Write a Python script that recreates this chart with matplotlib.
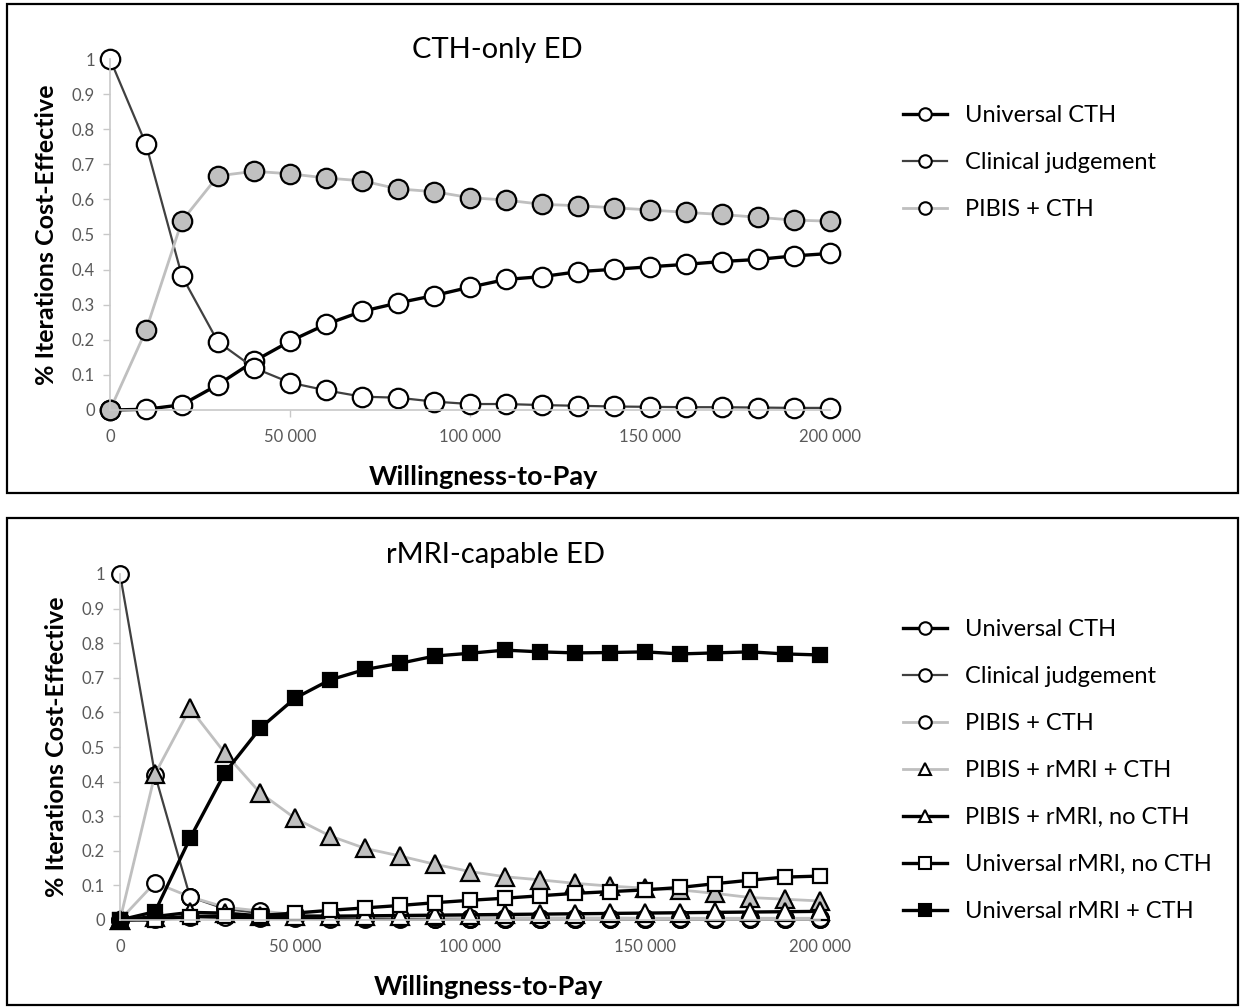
import matplotlib
matplotlib.use("Agg")
import matplotlib.pyplot as plt
from matplotlib.lines import Line2D
from matplotlib.patches import Rectangle
from matplotlib.ticker import FuncFormatter, MultipleLocator

plt.rcParams['font.family'] = ['Lato', 'DejaVu Sans']

# willingness-to-pay grid
wtp = list(range(0, 200001, 10000))

# --- CTH-only ED ---
top_univ_cth = [0.0, 0.002, 0.015, 0.072, 0.139, 0.196, 0.244, 0.281, 0.305, 0.326, 0.35,
                0.372, 0.38, 0.394, 0.401, 0.408, 0.415, 0.423, 0.429, 0.439, 0.446]
top_clinical = [1.0, 0.757, 0.381, 0.194, 0.12, 0.078, 0.056, 0.038, 0.035, 0.024, 0.017,
                0.017, 0.014, 0.012, 0.01, 0.009, 0.008, 0.008, 0.007, 0.006, 0.006]
top_pibis_cth = [0.0, 0.227, 0.539, 0.667, 0.68, 0.673, 0.661, 0.653, 0.63, 0.622, 0.605,
                 0.598, 0.586, 0.582, 0.576, 0.57, 0.563, 0.557, 0.549, 0.541, 0.538]

# --- rMRI-capable ED ---
bot_univ_cth = [0.0, 0.004, 0.01, 0.008, 0.006, 0.005, 0.004, 0.004, 0.003, 0.003, 0.003,
                0.003, 0.003, 0.003, 0.002, 0.002, 0.002, 0.002, 0.002, 0.002, 0.002]
bot_clinical = [1.0, 0.42, 0.067, 0.032, 0.02, 0.012, 0.008, 0.006, 0.005, 0.004, 0.004,
                0.003, 0.003, 0.003, 0.003, 0.002, 0.002, 0.002, 0.002, 0.002, 0.002]
bot_pibis_cth = [0.0, 0.108, 0.067, 0.037, 0.026, 0.016, 0.012, 0.01, 0.009, 0.008, 0.007,
                 0.007, 0.006, 0.006, 0.006, 0.005, 0.005, 0.005, 0.005, 0.005, 0.005]
bot_pibis_rmri_cth = [0.0, 0.422, 0.612, 0.482, 0.368, 0.294, 0.243, 0.207, 0.185, 0.161, 0.14,
                      0.125, 0.116, 0.106, 0.098, 0.092, 0.087, 0.077, 0.065, 0.06, 0.055]
bot_pibis_rmri_nocth = [0.0, 0.01, 0.022, 0.02, 0.012, 0.011, 0.011, 0.012, 0.013, 0.014, 0.015,
                        0.016, 0.017, 0.018, 0.019, 0.02, 0.021, 0.022, 0.023, 0.024, 0.025]
bot_univ_rmri_nocth = [0.0, 0.0, 0.01, 0.012, 0.013, 0.02, 0.028, 0.035, 0.042, 0.05, 0.057,
                       0.063, 0.07, 0.077, 0.082, 0.087, 0.094, 0.105, 0.115, 0.124, 0.127]
bot_univ_rmri_cth = [0.0, 0.024, 0.236, 0.426, 0.554, 0.641, 0.694, 0.724, 0.742, 0.763, 0.771,
                     0.78, 0.775, 0.772, 0.773, 0.775, 0.769, 0.772, 0.775, 0.769, 0.766]

BLACK = '#000000'
DARK = '#404040'
LIGHT = '#bfbfbf'
FILL = '#c0c0c0'
TICK = '#595959'

W, H = 1241, 1007
fig = plt.figure(figsize=(W / 100, H / 100), dpi=100)


def px(x0, y0, x1, y1):
    # pixel box -> figure fraction rect
    return [x0 / W, 1 - y1 / H, (x1 - x0) / W, (y1 - y0) / H]


def style_axes(ax, xlab_pos):
    ax.set_xlim(0, 200000)
    ax.set_ylim(0, 1)
    for s in ['top', 'right']:
        ax.spines[s].set_visible(False)
    for s in ['left', 'bottom']:
        ax.spines[s].set_color('#c8c8c8')
        ax.spines[s].set_linewidth(1.2)
    ax.xaxis.set_major_locator(MultipleLocator(50000))
    ax.yaxis.set_major_locator(MultipleLocator(0.1))
    ax.xaxis.set_major_formatter(FuncFormatter(lambda v, p: f"{int(v):,}".replace(",", " ")))
    ax.yaxis.set_major_formatter(FuncFormatter(lambda v, p: f"{round(v, 1):g}"))
    ax.tick_params(axis='both', colors='#c8c8c8', labelcolor=TICK, labelsize=12,
                   length=5, width=1.0)
    ax.tick_params(axis='x', pad=9)
    ax.tick_params(axis='y', pad=6)
    ax.set_ylabel('% Iterations Cost-Effective', fontsize=18, fontweight='bold', labelpad=10)
    ax.set_xlabel('Willingness-to-Pay', fontsize=19.5, fontweight='bold', labelpad=14)
    ax.xaxis.label.set_x(xlab_pos)


def series(ax, y, color, lw, marker, ms, fc):
    ax.plot(wtp, y, color=color, lw=lw, marker=marker, ms=ms, mfc=fc, mec=BLACK,
            mew=1.6, clip_on=False)


def handle(color, lw, marker, fc, ms=9):
    return Line2D([], [], color=color, lw=lw, marker=marker, ms=ms, mfc=fc, mec=BLACK, mew=1.5)


def add_legend(ax, handles, labels, top_px):
    ax.legend(handles, labels, loc='upper left', bbox_to_anchor=(903 / W, 1 - top_px / H),
              bbox_transform=fig.transFigure, frameon=False, fontsize=17,
              handlelength=1.86, handletextpad=0.76, labelspacing=1.1, borderpad=0,
              borderaxespad=0)


# panel borders
for box in [(7, 4, 1238, 493), (7, 518, 1238, 1005)]:
    x0, y0, x1, y1 = box
    fig.add_artist(Rectangle((x0 / W, 1 - y1 / H), (x1 - x0) / W, (y1 - y0) / H,
                             transform=fig.transFigure, fill=False, ec=BLACK, lw=1.6))

# ---- top panel ----
ax1 = fig.add_axes(px(110, 59, 830, 410))
style_axes(ax1, 0.518)
series(ax1, top_univ_cth, BLACK, 2.4, 'o', 14, 'white')
series(ax1, top_clinical, DARK, 1.6, 'o', 14, 'white')
series(ax1, top_pibis_cth, LIGHT, 2.0, 'o', 14, FILL)
fig.text(497 / W, 1 - 50 / H, 'CTH-only ED', fontsize=21, ha='center', va='center')

h1 = [handle(BLACK, 2.4, 'o', 'white'), handle(DARK, 1.6, 'o', 'white'),
      handle(LIGHT, 2.0, 'o', 'white')]
l1 = ['Universal CTH', 'Clinical judgement', 'PIBIS + CTH']
add_legend(ax1, h1, l1, 105)

# ---- bottom panel ----
ax2 = fig.add_axes(px(120, 574, 820, 920))
style_axes(ax2, 0.526)
series(ax2, bot_univ_cth, BLACK, 2.4, 'o', 12, 'white')
series(ax2, bot_clinical, DARK, 1.6, 'o', 12, 'white')
series(ax2, bot_pibis_cth, LIGHT, 2.0, 'o', 12, 'white')
series(ax2, bot_pibis_rmri_cth, LIGHT, 2.0, '^', 13, FILL)
series(ax2, bot_pibis_rmri_nocth, BLACK, 2.4, '^', 13, 'white')
series(ax2, bot_univ_rmri_nocth, BLACK, 2.4, 's', 10.5, 'white')
series(ax2, bot_univ_rmri_cth, BLACK, 2.4, 's', 9.5, BLACK)
fig.text(495 / W, 1 - 555 / H, 'rMRI-capable ED', fontsize=21, ha='center', va='center')

h2 = [handle(BLACK, 2.4, 'o', 'white'), handle(DARK, 1.6, 'o', 'white'),
      handle(LIGHT, 2.0, 'o', 'white'), handle(LIGHT, 2.0, '^', 'white'),
      handle(BLACK, 2.4, '^', 'white'), handle(BLACK, 2.4, 's', 'white', 8),
      handle(BLACK, 2.4, 's', BLACK, 8)]
l2 = ['Universal CTH', 'Clinical judgement', 'PIBIS + CTH', 'PIBIS + rMRI + CTH',
      'PIBIS + rMRI, no CTH', 'Universal rMRI, no CTH', 'Universal rMRI + CTH']
add_legend(ax2, h2, l2, 619)

fig.savefig('out.png', dpi=100)
